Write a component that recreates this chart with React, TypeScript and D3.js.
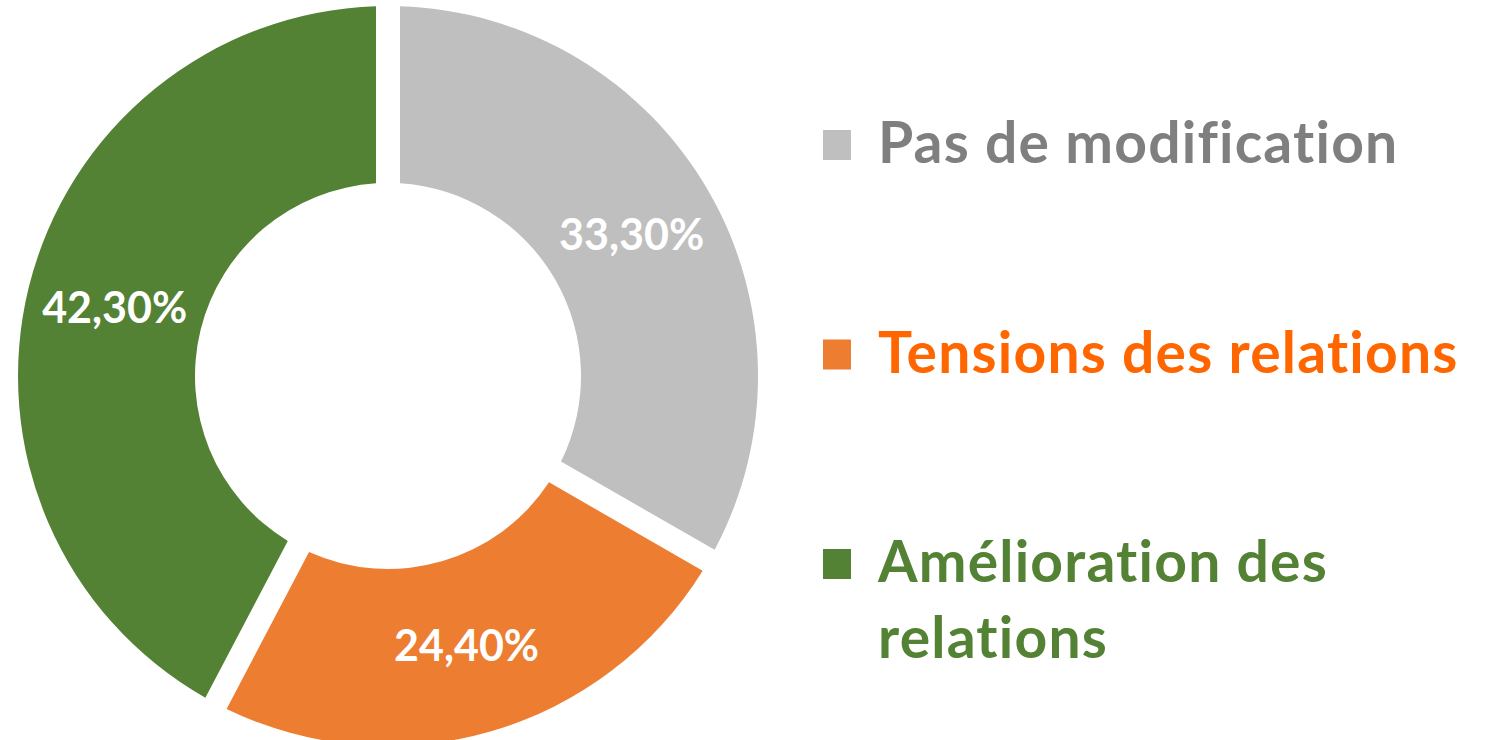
import React from "react";
import * as d3 from "d3";

const categories = ["Pas de modification", "Tensions des relations", "Amélioration des relations"];
const values = [33.3, 24.4, 42.3];
const valueLabels = ["33,30%", "24,40%", "42,30%"];
const legendLines = [["Pas de modification"], ["Tensions des relations"], ["Amélioration des", "relations"]];

const sliceColors = ["#BFBFBF", "#ED7D31", "#548235"];
const legendTextColors = ["#7F7F7F", "#FF6600", "#548235"];

const W = 1493;
const H = 740;
const cx = 388;
const cy = 376;
const outerR = 370;
const innerR = 193;
const gap = 24;

const FONT = "Lato, 'Open Sans', sans-serif";

const App = () => {
  const pie = d3
    .pie<number>()
    .value((d: number) => d)
    .sort(null);
  const arcs = pie(values);
  const arc = d3
    .arc<d3.PieArcDatum<number>>()
    .innerRadius(innerR)
    .outerRadius(outerR)
    .padRadius(outerR)
    .padAngle(gap / outerR);
  const labelArc = d3
    .arc<d3.PieArcDatum<number>>()
    .innerRadius(innerR)
    .outerRadius(outerR);

  // legend rows (baselines of first line)
  const rowY = d3.scalePoint<number>().domain([0, 1, 2]).range([163, 582]);

  return (
    <svg
      width={W}
      height={H}
      style={{ position: "absolute", left: 0, top: 0, background: "#fff" }}
    >
      <g transform={`translate(${cx} ${cy})`}>
        {arcs.map((a, i) => (
          <path key={categories[i]} d={arc(a) || ""} fill={sliceColors[i]} />
        ))}
        {arcs.map((a, i) => {
          const [x, y] = labelArc.centroid(a);
          return (
            <text
              key={"l" + i}
              x={x}
              y={y - 2}
              textAnchor="middle"
              dominantBaseline="central"
              fill="#fff"
              fontFamily={FONT}
              fontWeight="bold"
              fontSize={43}
            >
              {valueLabels[i]}
            </text>
          );
        })}
      </g>
      <g>
        {legendLines.map((lines, i) => {
          const y = rowY(i) || 0;
          return (
            <g key={"lg" + i}>
              <rect x={823} y={y - 33} width={28} height={30} fill={sliceColors[i]} />
              <text
                x={878}
                y={y}
                fill={legendTextColors[i]}
                fontFamily={FONT}
                fontWeight="bold"
                fontSize={57}
                letterSpacing={1.2}
              >
                {lines.map((t, j) => (
                  <tspan key={j} x={878} dy={j === 0 ? 0 : 76}>
                    {t}
                  </tspan>
                ))}
              </text>
            </g>
          );
        })}
      </g>
    </svg>
  );
};

export default App;
